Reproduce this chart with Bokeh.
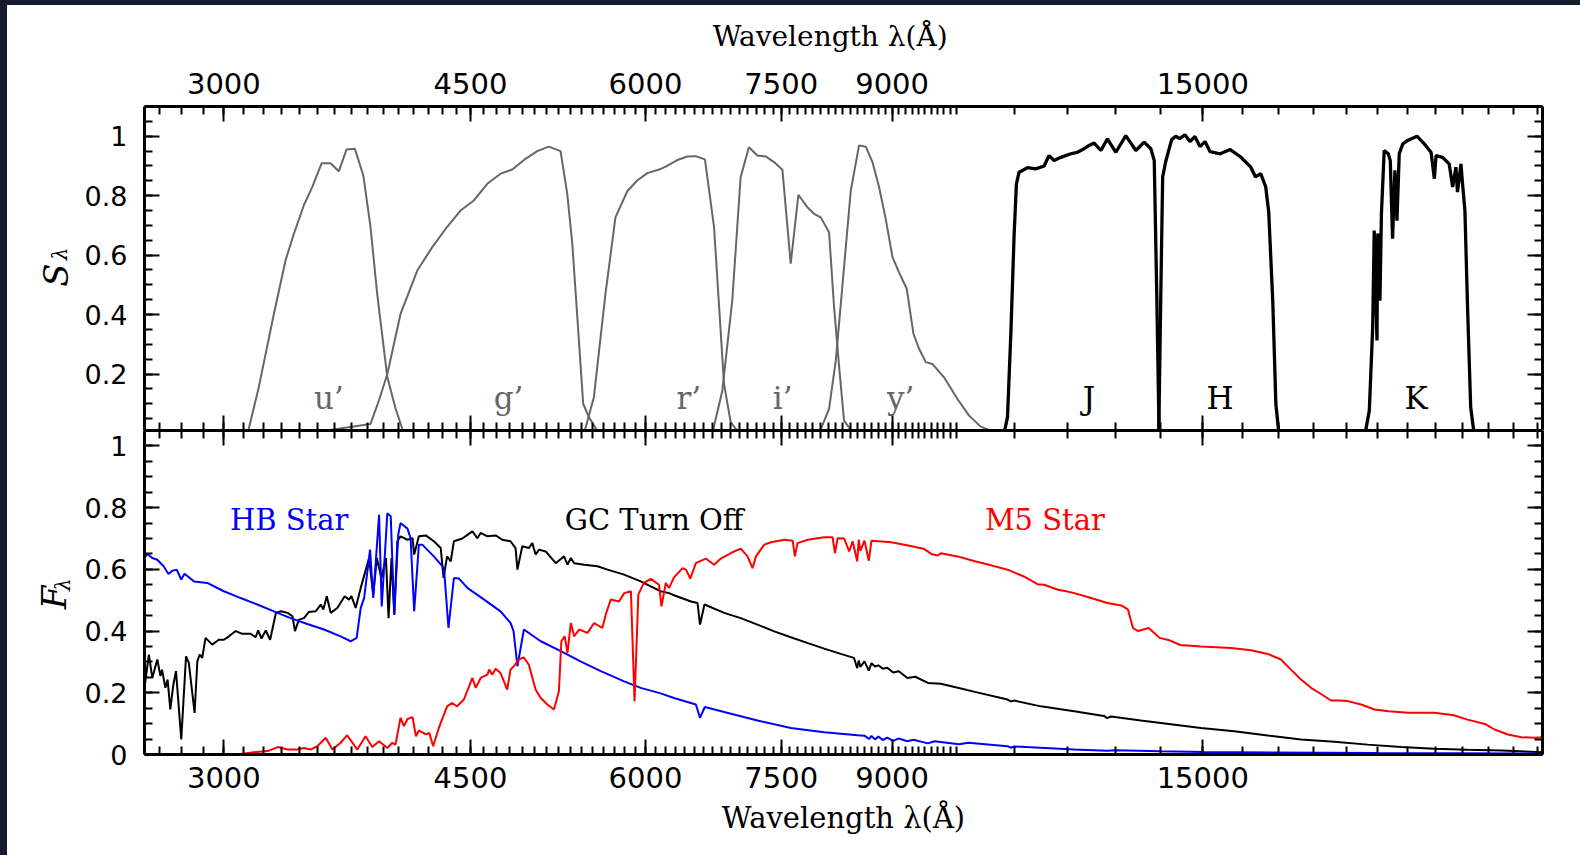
import numpy as np
from bokeh.plotting import figure
from bokeh.models import (Range1d, LinearAxis, LogAxis, FixedTicker,
                          CustomJSTickFormatter, Div)
from bokeh.layouts import column, row
from bokeh.core.properties import value
from bokeh.embed import file_html
from bokeh.resources import INLINE

# ---------------- data ----------------
# filter throughput curves: wavelength (Angstrom), S_lambda
U_FILTER = [(3100, 0.0), (3125, 0.015), (3177, 0.155), (3257, 0.402), (3320, 0.582), (3366, 0.672),
            (3421, 0.767), (3469, 0.829), (3523, 0.909), (3575, 0.909), (3624, 0.882), (3670, 0.955),
            (3721, 0.958), (3773, 0.868), (3818, 0.694), (3860, 0.470), (3925, 0.189), (3979, 0.083),
            (4023, 0.015), (4050, 0.0)]
G_FILTER = [(3440, 0.0), (3818, 0.032), (3871, 0.111), (3925, 0.200), (4011, 0.402), (4123, 0.548),
            (4226, 0.627), (4319, 0.688), (4427, 0.750), (4525, 0.784), (4626, 0.840), (4728, 0.874),
            (4820, 0.888), (4926, 0.924), (5022, 0.950), (5118, 0.965), (5218, 0.950), (5276, 0.806),
            (5320, 0.638), (5364, 0.391), (5416, 0.100), (5467, 0.055), (5557, 0.0)]
R_FILTER = [(5423, 0.0), (5512, 0.122), (5618, 0.470), (5711, 0.727), (5823, 0.815), (5919, 0.851),
            (6018, 0.876), (6152, 0.890), (6202, 0.898), (6323, 0.920), (6427, 0.932), (6516, 0.933),
            (6616, 0.922), (6716, 0.694), (6827, 0.167), (6902, 0.038), (7000, 0.0)]
I_FILTER = [(6697, 0.0), (6808, 0.144), (6920, 0.447), (7016, 0.862), (7112, 0.963), (7211, 0.935),
            (7311, 0.932), (7412, 0.913), (7515, 0.887), (7618, 0.571), (7715, 0.803), (7830, 0.761),
            (7917, 0.739), (8004, 0.727), (8114, 0.677), (8181, 0.425), (8250, 0.223), (8316, 0.043),
            (8445, 0.0)]
Y_FILTER = [(7982, 0.0), (8114, 0.083), (8204, 0.245), (8316, 0.559), (8409, 0.817), (8524, 0.969),
            (8619, 0.965), (8714, 0.913), (8809, 0.829), (8906, 0.722), (9006, 0.593), (9103, 0.542),
            (9219, 0.487), (9322, 0.335), (9408, 0.285), (9513, 0.240), (9616, 0.234), (9802, 0.189),
            (10021, 0.116), (10214, 0.060), (10411, 0.023), (10703, 0.0)]
J_FILTER = [(10819, 0.0), (10880, 0.055), (10940, 0.335), (11000, 0.672), (11041, 0.840), (11089, 0.879),
            (11243, 0.894), (11397, 0.890), (11556, 0.900), (11650, 0.935), (11747, 0.918), (11877, 0.929),
            (12073, 0.941), (12207, 0.946), (12340, 0.958), (12443, 0.969), (12546, 0.977), (12686, 0.952),
            (12823, 0.991), (13002, 0.946), (13216, 1.002), (13437, 0.952), (13621, 0.980), (13772, 0.958),
            (13849, 0.918), (13909, 0.447), (13960, 0.0)]
H_FILTER = [(13951, 0.0), (13996, 0.439), (14042, 0.863), (14111, 0.914), (14206, 0.965), (14253, 0.989),
            (14347, 1.0), (14442, 0.992), (14564, 1.005), (14685, 0.982), (14807, 0.999), (14931, 0.965),
            (15054, 0.982), (15181, 0.948), (15436, 0.941), (15692, 0.955), (15956, 0.931), (16225, 0.897),
            (16359, 0.863), (16497, 0.874), (16634, 0.830), (16717, 0.745), (16830, 0.439), (16914, 0.100),
            (16998, 0.0)]
K_FILTER = [(19560, 0.0), (19615, 0.015), (19723, 0.077), (19833, 0.357), (19883, 0.683), (19973, 0.313),
            (20000, 0.673), (20070, 0.447), (20120, 0.739), (20212, 0.952), (20347, 0.941), (20415, 0.918),
            (20492, 0.655), (20571, 0.885), (20640, 0.716), (20718, 0.941), (20838, 0.974), (21008, 0.986),
            (21330, 1.0), (21590, 0.974), (21830, 0.946), (21950, 0.857), (22010, 0.935), (22250, 0.929),
            (22490, 0.907), (22620, 0.829), (22740, 0.896), (22800, 0.812), (22930, 0.907), (22990, 0.840),
            (23080, 0.750), (23180, 0.425), (23300, 0.088), (23430, 0.0)]

OPT_FILTERS = [U_FILTER, G_FILTER, R_FILTER, I_FILTER, Y_FILTER]
NIR_FILTERS = [J_FILTER, H_FILTER, K_FILTER]
OPT_NAMES = ["u\u2019", "g\u2019", "r\u2019", "i\u2019", "y\u2019"]
NIR_NAMES = ["J", "H", "K"]

# stellar spectra: wavelength (Angstrom), F_lambda
HB_STAR = [(2633, 0.637), (2645, 0.650), (2667, 0.637), (2689, 0.631), (2717, 0.610), (2739, 0.585),
           (2755, 0.595), (2776, 0.599), (2797, 0.567), (2812, 0.586), (2856, 0.561), (2919, 0.556),
           (3000, 0.529), (3084, 0.507), (3170, 0.486), (3257, 0.464), (3348, 0.442), (3441, 0.423),
           (3537, 0.405), (3635, 0.383), (3695, 0.367), (3732, 0.378), (3757, 0.475), (3778, 0.507),
           (3815, 0.664), (3835, 0.507), (3872, 0.777), (3889, 0.480), (3925, 0.782), (3947, 0.772),
           (3970, 0.453), (3996, 0.712), (4011, 0.750), (4057, 0.732), (4078, 0.701), (4102, 0.464),
           (4134, 0.680), (4157, 0.680), (4237, 0.642), (4308, 0.604), (4340, 0.410), (4379, 0.572),
           (4416, 0.570), (4477, 0.540), (4602, 0.502), (4728, 0.464), (4807, 0.426), (4830, 0.400),
           (4861, 0.286), (4913, 0.405), (5051, 0.367), (5220, 0.335), (5392, 0.302), (5575, 0.270),
           (5793, 0.237), (5953, 0.216), (6152, 0.198), (6288, 0.183), (6518, 0.162), (6563, 0.119),
           (6615, 0.154), (6829, 0.138), (7213, 0.110), (7619, 0.086), (8049, 0.072), (8502, 0.0625),
           (8600, 0.061), (8665, 0.050), (8700, 0.060), (8750, 0.049), (8800, 0.058), (8863, 0.047),
           (8930, 0.055), (9015, 0.044), (9100, 0.052), (9229, 0.043), (9320, 0.048), (9546, 0.036),
           (9650, 0.043), (10049, 0.033), (10200, 0.038), (10881, 0.027), (10938, 0.022), (11000, 0.026),
           (12141, 0.016), (12818, 0.012), (13000, 0.014), (14002, 0.0107), (15000, 0.008), (20000, 0.005),
           (26220, 0.003)]
GC_TURNOFF = [(2633, 0.216), (2652, 0.324), (2667, 0.248), (2689, 0.308), (2703, 0.254), (2710, 0.275),
              (2725, 0.216), (2735, 0.243), (2747, 0.146), (2761, 0.227), (2773, 0.270), (2797, 0.049),
              (2819, 0.318), (2832, 0.297), (2859, 0.135), (2872, 0.302), (2883, 0.324), (2895, 0.313),
              (2911, 0.378), (2943, 0.356), (2975, 0.372), (3000, 0.372), (3025, 0.383), (3059, 0.400),
              (3093, 0.391), (3135, 0.391), (3161, 0.380), (3174, 0.402), (3191, 0.376), (3214, 0.402),
              (3237, 0.372), (3268, 0.459), (3295, 0.464), (3332, 0.459), (3358, 0.448), (3372, 0.400),
              (3394, 0.437), (3422, 0.442), (3450, 0.462), (3489, 0.464), (3518, 0.486), (3533, 0.470),
              (3553, 0.513), (3576, 0.459), (3615, 0.475), (3659, 0.513), (3685, 0.502), (3700, 0.513),
              (3726, 0.475), (3757, 0.540), (3809, 0.637), (3835, 0.518), (3858, 0.637), (3887, 0.572),
              (3916, 0.637), (3933, 0.442), (3952, 0.637), (3970, 0.453), (3990, 0.691), (4011, 0.707),
              (4057, 0.696), (4091, 0.701), (4102, 0.648), (4134, 0.707), (4181, 0.710), (4237, 0.691),
              (4285, 0.669), (4305, 0.572), (4330, 0.642), (4356, 0.626), (4379, 0.691), (4440, 0.700),
              (4514, 0.723), (4551, 0.701), (4576, 0.718), (4627, 0.707), (4690, 0.710), (4742, 0.696),
              (4806, 0.691), (4846, 0.669), (4861, 0.599), (4900, 0.675), (4953, 0.669), (4981, 0.685),
              (5009, 0.648), (5037, 0.664), (5092, 0.658), (5177, 0.620), (5248, 0.642), (5278, 0.615),
              (5307, 0.637), (5336, 0.620), (5425, 0.615), (5545, 0.610), (5637, 0.599), (5793, 0.583),
              (5953, 0.561), (6052, 0.545), (6152, 0.529), (6237, 0.523), (6288, 0.516), (6466, 0.496),
              (6536, 0.491), (6563, 0.421), (6611, 0.486), (6829, 0.459), (7017, 0.442), (7213, 0.421),
              (7415, 0.399), (7619, 0.380), (7836, 0.361), (8049, 0.343), (8271, 0.326), (8453, 0.313),
              (8498, 0.280), (8520, 0.305), (8542, 0.284), (8600, 0.302), (8662, 0.272), (8700, 0.296),
              (8750, 0.285), (8800, 0.289), (8863, 0.278), (8930, 0.281), (9015, 0.266), (9100, 0.270),
              (9229, 0.248), (9350, 0.252), (9546, 0.232), (9751, 0.229), (10077, 0.214), (10312, 0.203),
              (10881, 0.178), (10938, 0.172), (11000, 0.175), (11493, 0.156), (12141, 0.140), (12750, 0.125),
              (12818, 0.118), (12900, 0.123), (13548, 0.110), (14002, 0.102), (14954, 0.086), (15798, 0.075),
              (16690, 0.0615), (17627, 0.0486), (18618, 0.041), (19669, 0.032), (20778, 0.024),
              (21942, 0.019), (23180, 0.015), (24495, 0.013), (26220, 0.0075)]
M5_STAR = [(2633, 0.0), (3000, 0.0), (3084, 0.002), (3151, 0.0075), (3224, 0.011), (3278, 0.024),
           (3332, 0.016), (3386, 0.016), (3422, 0.021), (3460, 0.016), (3498, 0.027), (3547, 0.054),
           (3586, 0.016), (3635, 0.038), (3674, 0.0625), (3736, 0.016), (3787, 0.059), (3829, 0.024),
           (3872, 0.043), (3925, 0.021), (3957, 0.038), (3978, 0.032), (4011, 0.119), (4034, 0.092),
           (4057, 0.115), (4091, 0.121), (4114, 0.059), (4134, 0.078), (4181, 0.065), (4205, 0.070),
           (4232, 0.027), (4272, 0.086), (4330, 0.156), (4366, 0.167), (4402, 0.156), (4451, 0.178),
           (4514, 0.248), (4539, 0.216), (4576, 0.248), (4627, 0.259), (4640, 0.275), (4665, 0.259),
           (4690, 0.278), (4728, 0.264), (4780, 0.210), (4806, 0.275), (4832, 0.286), (4871, 0.308),
           (4911, 0.315), (4953, 0.291), (5009, 0.210), (5051, 0.183), (5106, 0.162), (5162, 0.146),
           (5204, 0.205), (5225, 0.367), (5254, 0.383), (5278, 0.329), (5307, 0.426), (5336, 0.383),
           (5380, 0.405), (5455, 0.394), (5514, 0.426), (5590, 0.410), (5620, 0.453), (5667, 0.502),
           (5745, 0.496), (5793, 0.523), (5858, 0.529), (5893, 0.173), (5930, 0.518), (5984, 0.556),
           (6052, 0.569), (6135, 0.550), (6160, 0.480), (6204, 0.556), (6237, 0.540), (6288, 0.574),
           (6377, 0.604), (6413, 0.599), (6459, 0.570), (6518, 0.620), (6626, 0.635), (6716, 0.615),
           (6791, 0.635), (6905, 0.653), (7017, 0.667), (7096, 0.642), (7155, 0.604), (7195, 0.642),
           (7294, 0.680), (7375, 0.688), (7539, 0.696), (7643, 0.693), (7670, 0.642), (7704, 0.685),
           (7836, 0.696), (8049, 0.704), (8161, 0.704), (8193, 0.653), (8230, 0.701), (8318, 0.700),
           (8387, 0.658), (8434, 0.691), (8498, 0.626), (8520, 0.696), (8542, 0.660), (8600, 0.693),
           (8662, 0.628), (8700, 0.693), (8988, 0.688), (9221, 0.678), (9478, 0.667), (9600, 0.650),
           (9700, 0.645), (9750, 0.652), (10022, 0.642), (10312, 0.626), (10593, 0.613), (10881, 0.599),
           (11177, 0.577), (11430, 0.552), (11557, 0.550), (11823, 0.534), (11983, 0.529), (12141, 0.523),
           (12484, 0.507), (12823, 0.491), (13117, 0.483), (13263, 0.470), (13373, 0.410), (13487, 0.400),
           (13720, 0.410), (13849, 0.394), (13969, 0.378), (14201, 0.370), (14457, 0.355), (14954, 0.350),
           (15716, 0.345), (16238, 0.338), (16690, 0.326), (17057, 0.308), (17340, 0.275), (17627, 0.243),
           (17922, 0.216), (18218, 0.196), (18520, 0.175), (18776, 0.175), (19035, 0.173), (19457, 0.162),
           (19897, 0.146), (20354, 0.140), (21028, 0.135), (21942, 0.135), (22663, 0.127), (23180, 0.113),
           (23850, 0.099), (24230, 0.081), (24770, 0.065), (25330, 0.056), (25910, 0.054), (26220, 0.056)]

SPEC_NAMES = ["HB Star", "GC Turn Off", "M5 Star"]

X_MAJOR = [3000, 4500, 6000, 7500, 9000, 15000]
X_MINOR = list(range(2700, 10001, 100)) + list(range(11000, 26001, 1000))
Y_MAJOR = [0.0, 0.2, 0.4, 0.6, 0.8, 1.0]
Y_MINOR = [round(0.05 * i, 2) for i in range(0, 23)]

X_LO, X_HI = 2633, 26220
S_RANGE = (0.01, 1.1)
F_RANGE = (0.0, 1.05)

# ---------------- layout constants ----------------
PAGE_W, PAGE_H = 1580, 855
LEFT_STRIP = 7      # dark strip on the left edge
TOP_STRIP = 5       # dark strip on the top edge
LAB_W = 70          # white strip that carries the rotated y titles
MAIN_W = PAGE_W - LEFT_STRIP - LAB_W
ROW1_H = 425
ROW2_H = PAGE_H - TOP_STRIP - ROW1_H
DARK = "#161b2e"
TICK_FONT = "DejaVu Sans"
SERIF = "DejaVu Serif"
X_TITLE = "Wavelength \u03bb(\u00c5)"

x_fmt = CustomJSTickFormatter(code="return tick.toFixed(0);")
y_fmt = CustomJSTickFormatter(code="return String(Math.round(tick*10)/10);")
blank_fmt = CustomJSTickFormatter(code="return '';")


def style_axis(ax, labeled, size="29px", standoff=12):
    ax.axis_line_width = 3
    ax.axis_line_color = "black"
    ax.major_tick_in = 15
    ax.major_tick_out = 0
    ax.minor_tick_in = 8
    ax.minor_tick_out = 0
    ax.major_tick_line_width = 2
    ax.minor_tick_line_width = 2
    ax.major_tick_line_color = "black"
    ax.minor_tick_line_color = "black"
    if labeled:
        ax.major_label_text_font = TICK_FONT
        ax.major_label_text_font_size = size
        ax.major_label_text_color = "black"
        ax.major_label_standoff = standoff
    else:
        ax.major_label_text_font_size = "0px"
        ax.major_label_standoff = 0


def x_axis(labeled, title=None, title_standoff=12, label_standoff=12, title_size="29px"):
    ax = LogAxis(ticker=FixedTicker(ticks=X_MAJOR, minor_ticks=X_MINOR),
                 formatter=x_fmt if labeled else blank_fmt)
    style_axis(ax, labeled, standoff=label_standoff)
    if title:
        ax.axis_label = title
        ax.axis_label_text_font = SERIF
        ax.axis_label_text_font_size = title_size
        ax.axis_label_text_font_style = "normal"
        ax.axis_label_text_color = "black"
        ax.axis_label_standoff = title_standoff
    return ax


def y_axis(labeled):
    ax = LinearAxis(ticker=FixedTicker(ticks=Y_MAJOR, minor_ticks=Y_MINOR),
                    formatter=y_fmt if labeled else blank_fmt)
    style_axis(ax, labeled, size="27px", standoff=17)
    return ax


def make_fig(height, y_rng, top_border, bottom_border):
    p = figure(width=MAIN_W, height=height, x_axis_type="log",
               x_range=Range1d(X_LO, X_HI), y_range=Range1d(*y_rng),
               x_axis_location=None, y_axis_location=None,
               output_backend="svg", toolbar_location=None,
               min_border_left=144 - LEFT_STRIP - LAB_W, min_border_right=PAGE_W - 1542,
               min_border_top=top_border, min_border_bottom=bottom_border)
    p.grid.visible = False
    p.outline_line_color = None
    p.background_fill_color = "white"
    p.border_fill_color = "white"
    p.margin = 0
    return p


def make_label_fig(height, y_rng, main_txt, main_pos, sub_pos):
    # narrow figure left of a panel; x range in pixels, y range shared with the panel
    lf = figure(width=LAB_W, height=height, x_range=Range1d(0, LAB_W), y_range=Range1d(*y_rng),
                x_axis_location=None, y_axis_location=None,
                output_backend="svg", toolbar_location=None,
                min_border_left=0, min_border_right=0, min_border_top=0, min_border_bottom=0)
    lf.grid.visible = False
    lf.outline_line_color = None
    lf.background_fill_color = "white"
    lf.border_fill_color = "white"
    lf.margin = 0
    lf.text(x=[main_pos[0]], y=[main_pos[1]], text=[main_txt], angle=np.pi / 2,
            text_font=value(SERIF), text_font_style="italic", text_font_size=value("34px"),
            text_align="center", text_baseline="alphabetic", text_color="black")
    lf.text(x=[sub_pos[0]], y=[sub_pos[1]], text=["\u03bb"], angle=np.pi / 2,
            text_font=value(SERIF), text_font_style="italic", text_font_size=value("20px"),
            text_align="center", text_baseline="alphabetic", text_color="black")
    return lf


# ---------------- top panel: filter curves ----------------
p1 = make_fig(ROW1_H, S_RANGE, 106 - TOP_STRIP, 0)
# the top title sits a little left of centre in the original: pad it on the right
p1.add_layout(x_axis(True, X_TITLE + "\u00a0\u00a0\u00a0", title_standoff=17, label_standoff=13,
                     title_size="28px"), "above")
p1.add_layout(x_axis(False), "below")
p1.add_layout(y_axis(True), "left")
p1.add_layout(y_axis(False), "right")

for curve in OPT_FILTERS:
    p1.line([c[0] for c in curve], [c[1] for c in curve], line_color="#666666", line_width=2)
for curve in NIR_FILTERS:
    p1.line([c[0] for c in curve], [c[1] for c in curve], line_color="black", line_width=3.3)

opt_label_x = [3566, 4791, 6443, 7518, 9129]
nir_label_x = [12438, 15429, 21296]
p1.text(x=opt_label_x, y=[0.12] * 5, text=OPT_NAMES, text_color="#666666",
        text_font=value(SERIF), text_font_size=value("31px"),
        text_align="center", text_baseline="alphabetic")
p1.text(x=nir_label_x, y=[0.12] * 3, text=NIR_NAMES, text_color="black",
        text_font=value(SERIF), text_font_size=value("31px"),
        text_align="center", text_baseline="alphabetic")

# ---------------- bottom panel: spectra ----------------
p2 = make_fig(ROW2_H, F_RANGE, 0, PAGE_H - 754)
p2.add_layout(x_axis(False), "above")
p2.add_layout(x_axis(True, X_TITLE, title_standoff=10, label_standoff=12), "below")
p2.add_layout(y_axis(True), "left")
p2.add_layout(y_axis(False), "right")

for spec, col in ((GC_TURNOFF, "black"), (HB_STAR, "#0000ff"), (M5_STAR, "#ff0000")):
    p2.line([c[0] for c in spec], [c[1] for c in spec], line_color=col, line_width=2)

p2.text(x=[3030, 5254, 10483], y=[0.761] * 3, text=SPEC_NAMES,
        text_color=["#0000ff", "black", "#ff0000"],
        text_font=value(SERIF), text_font_size=value("29px"),
        text_align="left", text_baseline="alphabetic")

# rotated y titles (S_lambda, F_lambda); x in strip pixels, y in panel units
lab1 = make_label_fig(ROW1_H, S_RANGE, "S", (48, 0.533), (52, 0.604))
lab2 = make_label_fig(ROW2_H, F_RANGE, "F", (46, 0.509), (55, 0.550))

top_strip = Div(text="", width=PAGE_W, height=TOP_STRIP, margin=0,
                styles={"background-color": DARK})
left_strip = Div(text="", width=LEFT_STRIP, height=PAGE_H - TOP_STRIP, margin=0,
                 styles={"background-color": DARK})

panels = column(row(lab1, p1, spacing=0), row(lab2, p2, spacing=0), spacing=0)
layout = column(top_strip, row(left_strip, panels, spacing=0), spacing=0)

open("out.html", "w").write(file_html(layout, INLINE))
